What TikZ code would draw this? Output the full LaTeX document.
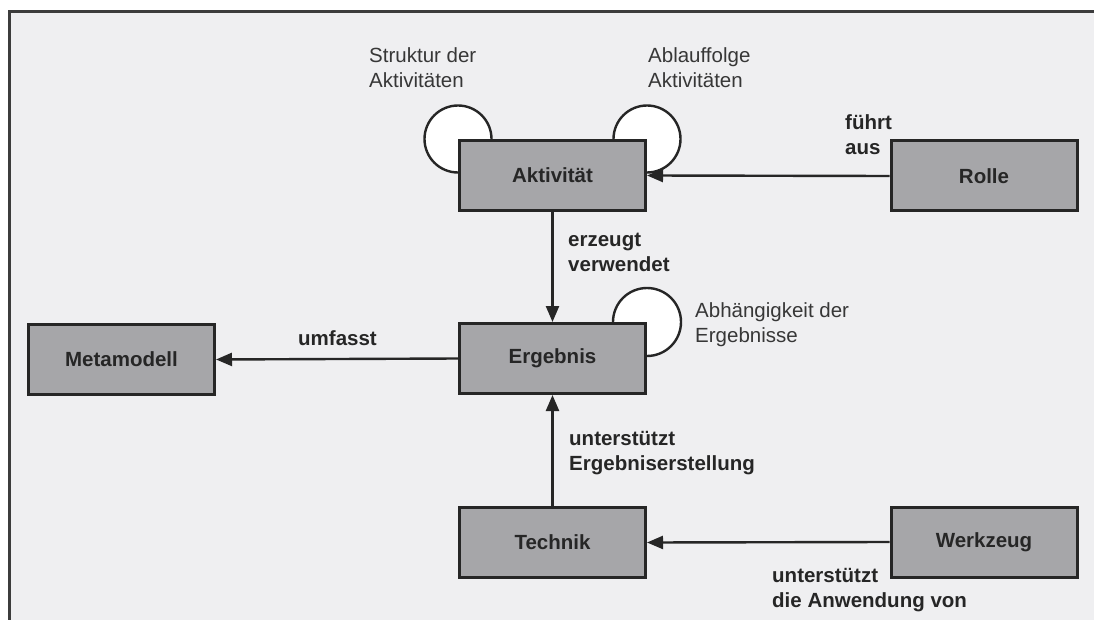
\documentclass[tikz,border=0pt]{standalone}
\usepackage{fontspec}
\setmainfont{Liberation Sans}
\usetikzlibrary{arrows.meta,backgrounds}

\definecolor{panel}{RGB}{239,239,241}
\definecolor{boxfill}{RGB}{166,166,169}
\definecolor{ink}{RGB}{38,38,38}
\definecolor{labelink}{RGB}{55,55,55}
\newcommand\labelfont{\fontsize{20.5pt}{25pt}\selectfont}
\newcommand\twolines[2]{\begin{tabular}[t]{@{}l@{}}#1\\#2\end{tabular}}

\begin{document}
\begin{tikzpicture}[x=1pt,y=-1pt,
  entity/.style={draw=ink, line width=3pt, fill=boxfill, minimum width=186pt,
                 minimum height=70pt, inner sep=0pt, font=\labelfont\bfseries, text=ink},
  rel/.style={draw=ink, line width=2.4pt, -{Triangle[length=16pt,width=13pt]}},
  selfloop/.style={draw=ink, line width=2.4pt, fill=white},
  note/.style={anchor=base west, inner sep=0pt, font=\labelfont, text=labelink},
  verb/.style={anchor=base west, inner sep=0pt, font=\labelfont\bfseries, text=ink}]

\useasboundingbox (0,0) rectangle (1094,620);

% entities of the metamodel
\node[entity] (akt)  at (552.5,175.5) {Aktivität};
\node[entity] (rolle) at (984,176)    {Rolle};
\node[entity] (meta) at (121.5,359.5) {Metamodell};
\node[entity] (erg)  at (552.5,358.5) {Ergebnis};
\node[entity] (tech) at (552.5,542.5) {Technik};
\node[entity] (werk) at (984,542)     {Werkzeug};

% panel, frame and self-relations behind the entities
\begin{scope}[on background layer]
  \fill[panel] (10,11) rectangle (1094,620);
  \draw[ink!90, line width=2.8pt] (9.5,620) -- (9.5,11.3) -- (1094,11.3);
  \draw[selfloop] (akt.north west) circle[radius=33.5pt];
  \draw[selfloop] (akt.north east) circle[radius=33.5pt];
  \draw[selfloop] (erg.north east) circle[radius=34pt];
\end{scope}

% relations
\draw[rel] (rolle.west) -- (akt.east);
\draw[rel] (akt.south)  -- (erg.north);
\draw[rel] (erg.west)   -- (meta.east);
\draw[rel] (tech.north) -- (erg.south);
\draw[rel] (werk.west)  -- (tech.east);

% self-relation labels
\node[note] (lstruk) at (369,63)  {\twolines{Struktur der}{Aktivitäten}};
\node[note] (lablauf) at (648,63) {\twolines{Ablauffolge}{Aktivitäten}};
\node[note] (labh) at (695,317)   {\twolines{Abhängigkeit der}{Ergebnisse}};

% relation labels
\node[verb] (lfuehrt) at (845,130) {\twolines{führt}{aus}};
\node[verb] (lerz) at (568,247)    {\twolines{erzeugt}{verwendet}};
\node[verb] (lumf) at (298,345)    {umfasst};
\node[verb] (luerg) at (569,445)   {\twolines{unterstützt}{Ergebniserstellung}};
\node[verb] (luanw) at (772,582)   {\twolines{unterstützt}{die Anwendung von}};
\end{tikzpicture}
\end{document}
